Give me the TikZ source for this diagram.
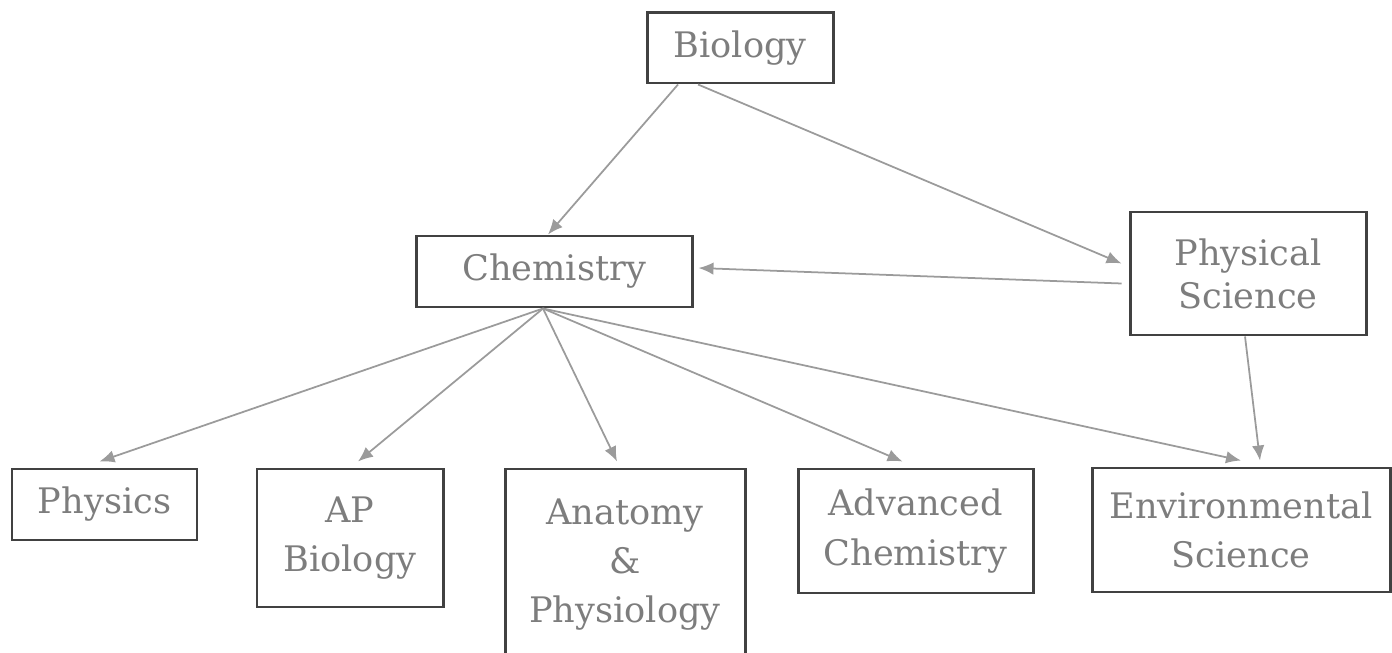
\documentclass[tikz,border=0pt]{standalone}
\usepackage{fontspec}
\setmainfont{DejaVu Serif}
\usetikzlibrary{arrows.meta}
\tikzstyle{chart} = [y = -1cm]
\definecolor{boxColor}{RGB}{65,65,65}
\definecolor{arrowColor}{RGB}{155,155,155}
\definecolor{textColor}{RGB}{125,125,125}
\tikzstyle{courseBox} = [draw=boxColor, line width=1.7pt, text=textColor, align=center, inner sep=0pt, font=\fontsize{20}{28}\selectfont]
\tikzstyle{prereqArrow} = [draw=arrowColor, line width=1pt, -{Latex[length=3mm,width=2.5mm]}]
\newcommand{\course}[6]{\node [courseBox, minimum width=#4cm, minimum height=#5cm] (#1) at (#2,#3) {#6};}

\begin{document}
\begin{tikzpicture}[chart]
  \useasboundingbox (0,0) rectangle (27.84,13.06);
  % top rows
  \course{bio}{14.8}{0.96}{3.72}{1.4}{Biology}
  \course{chem}{11.08}{5.43}{5.52}{1.42}{Chemistry}
  \node [courseBox, minimum width=4.72cm, minimum height=2.46cm, font=\fontsize{20}{24.5}\selectfont] (phys) at (24.96,5.47) {Physical\\Science};
  % bottom row
  \course{physics}{2.09}{10.09}{3.7}{1.42}{Physics}
  \course{apBio}{7.0}{10.76}{3.72}{2.76}{AP\\Biology}
  \course{anatomy}{12.5}{11.29}{4.8}{3.82}{Anatomy\\\&\\Physiology}
  \course{advChem}{18.31}{10.62}{4.7}{2.48}{Advanced\\Chemistry}
  \course{envSci}{24.82}{10.6}{5.96}{2.48}{Environmental\\Science}
  % arrows
  \draw [prereqArrow] ([xshift=-1.24cm]bio.south) -- ([xshift=-0.12cm]chem.north);
  \draw [prereqArrow] ([xshift=-0.84cm]bio.south) -- ([xshift=-0.14cm, yshift=0.2cm]phys.west);
  \draw [prereqArrow] ([xshift=-0.14cm, yshift=-0.2cm]phys.west) -- ([xshift=0.1cm, yshift=0.07cm]chem.east);
  \foreach \target/\offset in {physics/-0.1, apBio/0.16, anatomy/-0.16, advChem/-0.26, envSci/0} {
    \draw [prereqArrow] ([xshift=-0.22cm]chem.south) -- ([xshift=\offset cm, yshift=0.12cm]\target.north);
  }
  \draw [prereqArrow] ([xshift=-0.06cm]phys.south) -- ([xshift=0.38cm, yshift=0.12cm]envSci.north);
\end{tikzpicture}
\end{document}
